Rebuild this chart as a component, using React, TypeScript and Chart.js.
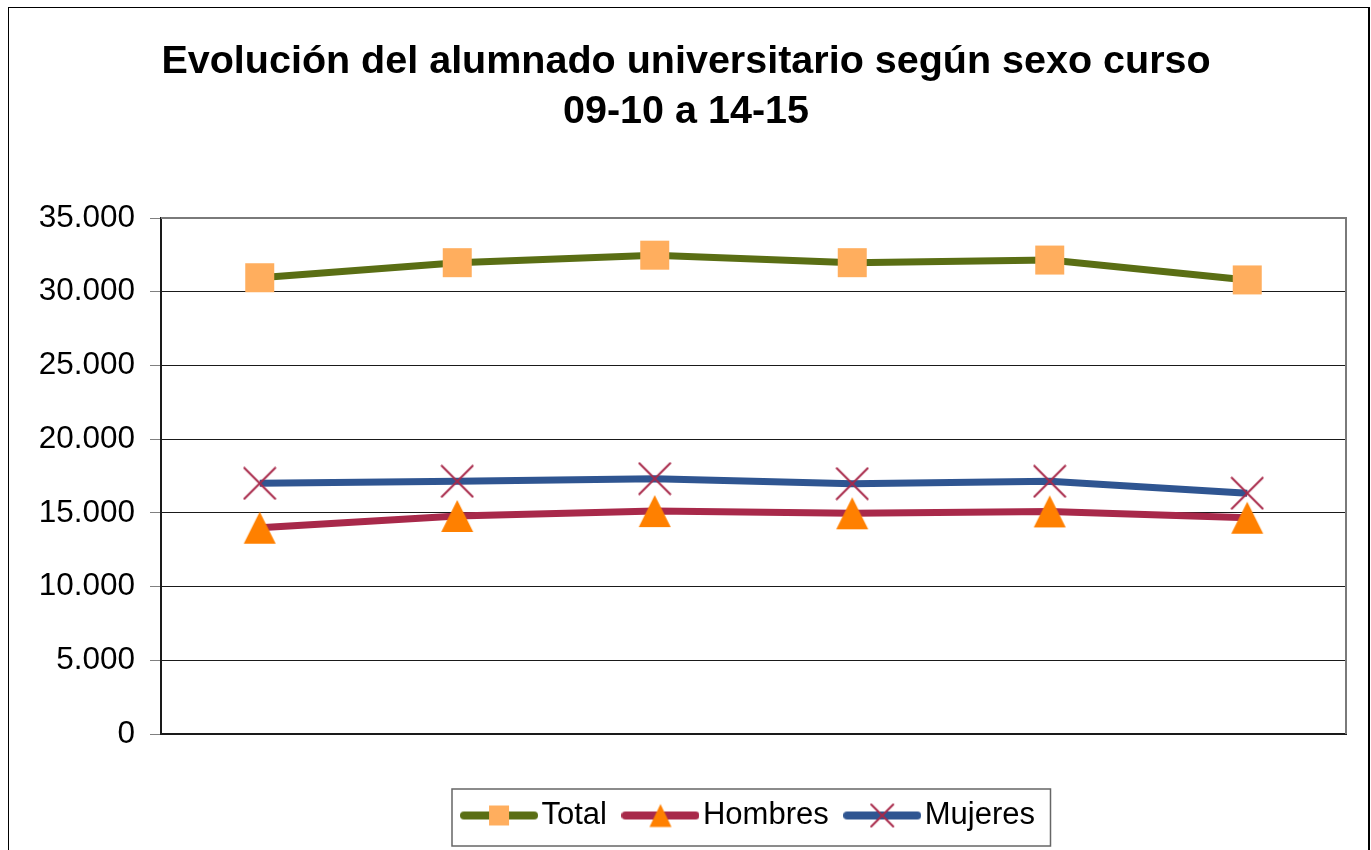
import React, { useEffect, useRef } from 'react';
import { Chart, registerables } from 'chart.js';

Chart.register(...registerables);

// ---------- data ----------
const categories = ['09-10', '10-11', '11-12', '12-13', '13-14', '14-15'];
const totalValues = [30950, 31970, 32480, 31970, 32150, 30800];
const hombresValues = [13990, 14790, 15120, 14970, 15100, 14670];
const mujeresValues = [17000, 17140, 17320, 16980, 17140, 16330];
const seriesNames = ['Total', 'Hombres', 'Mujeres'];
const titleLines = ['Evolución del alumnado universitario según sexo curso', '09-10 a 14-15'];
const yMin = 0;
const yMax = 35000;
const yStep = 5000;

// ---------- styles ----------
const FONT = "'Liberation Sans', Arial, Helvetica, sans-serif";
const TOTAL_LINE = '#5A6E14';
const TOTAL_MARK = '#FFAE5E';
const HOMBRES_LINE = '#A8294A';
const HOMBRES_MARK = '#FF8000';
const MUJERES_LINE = '#2F5591';
const MUJERES_MARK = '#A8294A';

type Kind = 'square' | 'triangle' | 'cross';

function drawMarker(ctx: CanvasRenderingContext2D, kind: Kind, cx: number, cy: number, w: number, h: number) {
  if (kind === 'square') {
    ctx.fillStyle = TOTAL_MARK;
    ctx.fillRect(cx - w / 2, cy - h / 2, w, h);
  } else if (kind === 'triangle') {
    ctx.fillStyle = HOMBRES_MARK;
    ctx.beginPath();
    ctx.moveTo(cx, cy - h / 2);
    ctx.lineTo(cx + w / 2, cy + h / 2);
    ctx.lineTo(cx - w / 2, cy + h / 2);
    ctx.closePath();
    ctx.fill();
  } else {
    ctx.strokeStyle = MUJERES_MARK;
    ctx.lineWidth = 2;
    ctx.beginPath();
    ctx.moveTo(cx - w / 2, cy - h / 2);
    ctx.lineTo(cx + w / 2, cy + h / 2);
    ctx.moveTo(cx + w / 2, cy - h / 2);
    ctx.lineTo(cx - w / 2, cy + h / 2);
    ctx.stroke();
  }
}

function markerImage(kind: Kind, w: number, h: number): HTMLCanvasElement {
  const c = document.createElement('canvas');
  c.width = w + 2;
  c.height = h + 2;
  const ctx = c.getContext('2d')!;
  drawMarker(ctx, kind, c.width / 2, c.height / 2, w, h);
  return c;
}

function legendImage(kind: Kind, lineColor: string, w: number, h: number): HTMLCanvasElement {
  const c = document.createElement('canvas');
  c.width = 78;
  c.height = 32;
  const ctx = c.getContext('2d')!;
  ctx.strokeStyle = lineColor;
  ctx.lineWidth = 8;
  ctx.lineCap = 'round';
  ctx.beginPath();
  ctx.moveTo(4, 16);
  ctx.lineTo(74, 16);
  ctx.stroke();
  drawMarker(ctx, kind, 39, 16, w, h);
  return c;
}

function formatThousands(v: number): string {
  return Math.round(v).toString().replace(/\B(?=(\d{3})+(?!\d))/g, '.');
}

const LEGEND_FONT = 31;

const framePlugin = {
  id: 'frameAndLegendBox',
  afterDraw(chart: any) {
    const ctx = chart.ctx as CanvasRenderingContext2D;
    const a = chart.chartArea;
    ctx.save();
    // plot area top / right border
    ctx.strokeStyle = '#7a7a7a';
    ctx.lineWidth = 2;
    ctx.beginPath();
    ctx.moveTo(a.left, a.top);
    ctx.lineTo(a.right, a.top);
    ctx.lineTo(a.right, a.bottom);
    ctx.stroke();
    // legend box
    const lg = chart.legend;
    if (lg && lg.legendHitBoxes && lg.legendHitBoxes.length) {
      const hb = lg.legendHitBoxes;
      const first = hb[0];
      const last = hb[hb.length - 1];
      const cy = first.top + LEGEND_FONT / 2;
      const left = first.left - 20;
      const right = last.left + last.width + 15.5;
      const top = cy - 26.5;
      const bottom = cy + 30.5;
      ctx.strokeStyle = '#666666';
      ctx.lineWidth = 1.5;
      ctx.strokeRect(left, top, right - left, bottom - top);
    }
    ctx.restore();
  },
};

export default function App() {
  const canvasRef = useRef<HTMLCanvasElement | null>(null);

  useEffect(() => {
    const canvas = canvasRef.current;
    if (!canvas) return;

    const squareImg = markerImage('square', 29, 29);
    const triangleImg = markerImage('triangle', 32, 32);
    const crossImg = markerImage('cross', 32, 32);
    const legendImgs = [
      legendImage('square', TOTAL_LINE, 20, 20),
      legendImage('triangle', HOMBRES_LINE, 22, 23),
      legendImage('cross', MUJERES_LINE, 22, 22),
    ];

    const chart = new Chart(canvas, {
      type: 'line',
      data: {
        labels: categories,
        datasets: [
          {
            label: seriesNames[0],
            data: totalValues,
            borderColor: TOTAL_LINE,
            backgroundColor: TOTAL_MARK,
            borderWidth: 7,
            pointStyle: squareImg as any,
            pointRadius: 15,
            tension: 0,
            fill: false,
          },
          {
            label: seriesNames[1],
            data: hombresValues,
            borderColor: HOMBRES_LINE,
            backgroundColor: HOMBRES_MARK,
            borderWidth: 7,
            pointStyle: triangleImg as any,
            pointRadius: 15,
            tension: 0,
            fill: false,
          },
          {
            label: seriesNames[2],
            data: mujeresValues,
            borderColor: MUJERES_LINE,
            backgroundColor: MUJERES_MARK,
            borderWidth: 7,
            pointStyle: crossImg as any,
            pointRadius: 15,
            tension: 0,
            fill: false,
          },
        ],
      },
      options: {
        responsive: false,
        animation: false,
        devicePixelRatio: 1,
        layout: { padding: { left: 26, right: 25, top: 0, bottom: 9 } },
        font: { family: FONT },
        scales: {
          x: {
            type: 'category',
            offset: true,
            grid: { display: false, drawTicks: false },
            ticks: { display: false },
            border: { display: true, color: '#1a1a1a', width: 2 },
            afterFit: (scale: any) => {
              scale.height = 39.5;
            },
          },
          y: {
            min: yMin,
            max: yMax,
            ticks: {
              stepSize: yStep,
              color: '#000',
              padding: 15,
              font: { family: FONT, size: 31.5 },
              callback: (v: any) => formatThousands(Number(v)),
            },
            grid: {
              color: '#1a1a1a',
              lineWidth: 1,
              tickLength: 11,
              tickColor: '#808080',
              drawTicks: true,
            },
            border: { display: true, color: '#1a1a1a', width: 2 },
            afterFit: (scale: any) => {
              scale.width = 135;
            },
          },
        },
        plugins: {
          title: {
            display: true,
            text: titleLines,
            color: '#000',
            font: { family: FONT, size: 39.5, weight: 'bold', lineHeight: 50 / 39.5 },
            padding: { top: 37, bottom: 81 },
          },
          legend: {
            display: true,
            position: 'bottom',
            fullSize: false,
            labels: {
              color: '#000',
              font: { family: FONT, size: LEGEND_FONT },
              usePointStyle: true,
              pointStyleWidth: 54,
              padding: 26.5,
              generateLabels: () =>
                seriesNames.map((name, i) => ({
                  text: name,
                  pointStyle: legendImgs[i] as any,
                  fillStyle: 'rgba(0,0,0,0)',
                  strokeStyle: 'rgba(0,0,0,0)',
                  lineWidth: 0,
                  hidden: false,
                  datasetIndex: i,
                  fontColor: '#000',
                })),
            },
          },
          tooltip: { enabled: false },
        },
      } as any,
      plugins: [framePlugin],
    });

    return () => {
      chart.destroy();
    };
  }, []);

  return (
    <div style={{ position: 'fixed', left: 0, top: 0, width: 1371, height: 850, background: '#fff' }}>
      <canvas ref={canvasRef} width={1371} height={850} style={{ display: 'block' }} />
      <div
        style={{
          position: 'absolute',
          left: 8,
          top: 7,
          width: 1359,
          height: 843,
          borderLeft: '1px solid #000',
          borderTop: '1px solid #000',
          borderRight: '2px solid #000',
          boxSizing: 'content-box',
          pointerEvents: 'none',
        }}
      />
    </div>
  );
}
